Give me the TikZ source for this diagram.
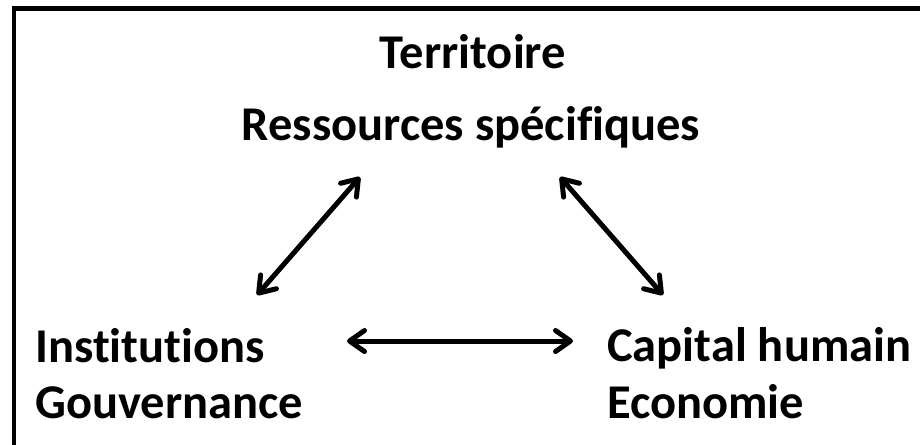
\documentclass[tikz,border=0pt]{standalone}
\usepackage{fontspec}
\setmainfont{Carlito}[Ligatures={NoCommon}]
\usetikzlibrary{arrows.meta}
\tikzset{
  lbl/.style={inner sep=0pt, font=\bfseries\fontsize{48.5}{56}\selectfont},
  tip/.style={Straight Barb[length=15pt,width=21pt,line join=round,line cap=round]},
  dbl/.style={line width=5pt, {Straight Barb[length=15pt,width=21pt,line join=round,line cap=round]}-{Straight Barb[length=15pt,width=21pt,line join=round,line cap=round]}},
}
\begin{document}
\begin{tikzpicture}[x=1pt,y=-1pt]
\useasboundingbox (0,0) rectangle (920,444);
\clip (0,0) rectangle (920,444);
\fill[white] (0,0) rectangle (920,444);
\draw[line width=4.8pt] (14,8.5) rectangle (940,470);
\node[lbl, anchor=base] (terr) at (473,68) {Territoire};
\node[lbl, anchor=base] (res) at (471,140) {Ressources spécifiques};
\node[lbl, anchor=base west] (inst) at (35,362) {Institutions};
\node[lbl, anchor=base west] (gouv) at (35,418) {Gouvernance};
\node[lbl, anchor=base west] (cap) at (607,361) {Capital humain};
\node[lbl, anchor=base west] (eco) at (607,418) {Economie};
\coordinate (lt) at (360,177);
\coordinate (lb) at (257,295);
\coordinate (rt) at (560,177);
\coordinate (rb) at (663,295);
\coordinate (hl) at (347,341);
\coordinate (hr) at (573,341);
\draw[dbl] (lb) -- (lt);
\draw[dbl] (rt) -- (rb);
\draw[dbl] (hl) -- (hr);
\end{tikzpicture}
\end{document}
